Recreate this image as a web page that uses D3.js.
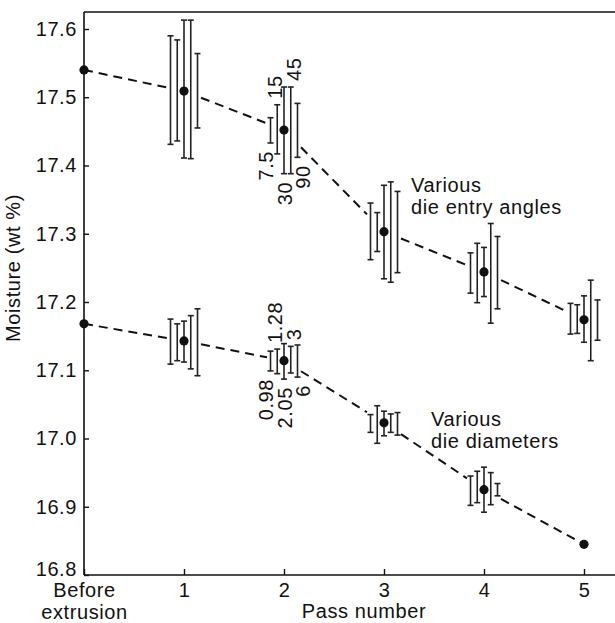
<!DOCTYPE html>
<html>
<head>
<meta charset="utf-8">
<script src="https://cdn.jsdelivr.net/npm/d3@7"></script>
<style>
  html, body { margin: 0; padding: 0; background: #fff; }
  svg { display: block; }
  text { font-family: "Liberation Sans", Arial, Helvetica, sans-serif; fill: #111; }
</style>
</head>
<body>
<svg id="chart" width="615" height="623"></svg>
<script>
// ---------- data ----------
const categories = ["Before extrusion", "1", "2", "3", "4", "5"];
const yTicks = [16.8, 16.9, 17.0, 17.1, 17.2, 17.3, 17.4, 17.5, 17.6];

// series 1: various die entry angles (deg)
const angleKeys = ["7.5", "15", "30", "45", "90"];
const angleMean = [17.54, 17.509, 17.452, 17.303, 17.244, 17.174];
const angleHigh = [
  null,
  [17.590, 17.584, 17.613, 17.613, 17.564],
  [17.470, 17.489, 17.515, 17.515, 17.491],
  [17.345, 17.331, 17.371, 17.376, 17.362],
  [17.272, 17.286, 17.280, 17.315, 17.296],
  [17.198, 17.196, 17.209, 17.232, 17.203]
];
const angleLow = [
  null,
  [17.431, 17.436, 17.411, 17.410, 17.455],
  [17.433, 17.417, 17.388, 17.388, 17.412],
  [17.262, 17.274, 17.234, 17.229, 17.243],
  [17.213, 17.199, 17.208, 17.169, 17.190],
  [17.153, 17.154, 17.141, 17.114, 17.144]
];

// series 2: various die diameters (mm)
const diameterKeys = ["0.98", "1.28", "2.05", "3", "6"];
const diameterMean = [17.168, 17.143, 17.114, 17.023, 16.925, 16.845];
const diameterHigh = [
  null,
  [17.175, 17.168, 17.172, 17.180, 17.190],
  [17.128, 17.131, 17.139, 17.135, 17.137],
  [17.035, 17.048, 17.040, 17.036, 17.038],
  [16.945, 16.952, 16.958, 16.950, 16.934],
  null
];
const diameterLow = [
  null,
  [17.109, 17.114, 17.112, 17.102, 17.092],
  [17.099, 17.095, 17.087, 17.096, 17.090],
  [17.009, 16.993, 17.004, 17.009, 17.005],
  [16.902, 16.906, 16.892, 16.903, 16.916],
  null
];
const labelledPass = "2";
const annotations = [["Various", "die entry angles"], ["Various", "die diameters"]];

// ---------- layout ----------
const svg = d3.select("#chart");
const M = { left: 84, right: 615, top: 12, bottom: 575 };
const FONT = 20;

const x = d3.scalePoint().domain(categories).range([84, 584]);
const y = d3.scaleLinear().domain([16.8, 17.6]).range([575, 29]);
const barOffset = d3.scalePoint().domain(d3.range(5)).range([-13.5, 13.5]);
const labelOffset = d3.scalePoint().domain(d3.range(5)).range([-18, 19]);

// frame
const frame = svg.append("g").attr("stroke", "#111").attr("stroke-width", 1.6).attr("fill", "none");
frame.append("line").attr("x1", M.left).attr("x2", M.left).attr("y1", M.top).attr("y2", M.bottom);
frame.append("line").attr("x1", M.left).attr("x2", M.right).attr("y1", M.bottom).attr("y2", M.bottom);
frame.append("line").attr("x1", M.left).attr("x2", M.right).attr("y1", M.top).attr("y2", M.top);

// y axis
const yAxis = svg.append("g").attr("transform", `translate(${M.left},0)`)
  .call(d3.axisLeft(y).tickValues(yTicks).tickFormat(d3.format(".1f")).tickSize(-5).tickPadding(7));
yAxis.select(".domain").remove();
yAxis.selectAll("line").attr("stroke", "#111").attr("stroke-width", 1.4);
yAxis.selectAll("text").attr("font-size", FONT).attr("fill", "#111")
  .attr("font-family", "Liberation Sans, Arial, sans-serif").style("letter-spacing", "0.6px")
  .attr("dy", (d, i) => i === 0 ? "0em" : "0.32em");

// x axis
const xAxis = svg.append("g").attr("transform", `translate(0,${M.bottom})`)
  .call(d3.axisBottom(x).tickSize(-6).tickPadding(8));
xAxis.select(".domain").remove();
xAxis.selectAll("line").attr("stroke", "#111").attr("stroke-width", 1.4);
xAxis.selectAll("text").attr("font-size", FONT).attr("fill", "#111")
  .attr("font-family", "Liberation Sans, Arial, sans-serif").style("letter-spacing", "0.6px")
  .each(function(d) {
    const words = d.split(" ");
    if (words.length > 1) {
      const t = d3.select(this).text(null);
      words.forEach((w, i) => t.append("tspan").attr("x", 0).attr("dy", i === 0 ? "0.71em" : "1.1em").text(w));
      t.attr("dy", null);
    }
  });

// axis titles
svg.append("text").attr("x", 364).attr("y", 618).attr("text-anchor", "middle")
  .attr("font-size", FONT).style("letter-spacing", "0.6px").text("Pass number");
svg.append("text").attr("transform", `translate(20,268) rotate(-90)`).attr("text-anchor", "middle")
  .attr("font-size", FONT).style("letter-spacing", "0.6px").text("Moisture (wt %)");

// ---------- series ----------
const GAP = 17;
function drawSeries(mean, lo, hi, keys, annot, annotPos) {
  const g = svg.append("g");
  const lineGen = d3.line();
  for (let i = 0; i < categories.length - 1; i++) {
    const x0 = x(categories[i]), y0 = y(mean[i]);
    const x1 = x(categories[i + 1]), y1 = y(mean[i + 1]);
    const dx = x1 - x0;
    const t0 = hi[i] ? GAP / dx : 0;
    const t1 = hi[i + 1] ? 1 - GAP / dx : 1;
    const pts = [[x0 + dx * t0, y0 + (y1 - y0) * t0], [x0 + dx * t1, y0 + (y1 - y0) * t1]];
    g.append("path").attr("d", lineGen(pts)).attr("fill", "none")
      .attr("stroke", "#111").attr("stroke-width", 2).attr("stroke-dasharray", "9,6");
  }
  categories.forEach((c, i) => {
    if (!hi[i]) return;
    hi[i].forEach((h, k) => {
      const bx = x(c) + barOffset(k);
      const bg = g.append("g").attr("stroke", "#222").attr("stroke-width", 1.6);
      bg.append("line").attr("x1", bx).attr("x2", bx).attr("y1", y(h)).attr("y2", y(lo[i][k]));
      bg.append("line").attr("x1", bx - 3).attr("x2", bx + 3).attr("y1", y(h)).attr("y2", y(h));
      bg.append("line").attr("x1", bx - 3).attr("x2", bx + 3).attr("y1", y(lo[i][k])).attr("y2", y(lo[i][k]));
      if (c === labelledPass) {
        const lx = x(c) + labelOffset(k);
        const above = k % 2 === 1;
        const ly = above ? y(h) - 6 : y(lo[i][k]) + 8;
        g.append("text").attr("transform", `translate(${lx},${ly}) rotate(-90)`)
          .attr("text-anchor", above ? "start" : "end").attr("dy", "0.35em")
          .attr("font-size", FONT).style("letter-spacing", "0.6px").text(keys[k]);
      }
    });
  });
  g.selectAll("circle.pt").data(mean).join("circle").attr("class", "pt")
    .attr("cx", (d, i) => x(categories[i])).attr("cy", d => y(d)).attr("r", 4.6).attr("fill", "#111");
  const t = g.append("text").attr("x", annotPos[0]).attr("y", annotPos[1])
    .attr("font-size", FONT).style("letter-spacing", "0.6px");
  annot.forEach((w, i) => t.append("tspan").attr("x", annotPos[0]).attr("dy", i === 0 ? 0 : 22).text(w));
}

drawSeries(angleMean, angleLow, angleHigh, angleKeys, annotations[0], [411, 192]);
drawSeries(diameterMean, diameterLow, diameterHigh, diameterKeys, annotations[1], [431, 426]);
</script>
</body>
</html>
